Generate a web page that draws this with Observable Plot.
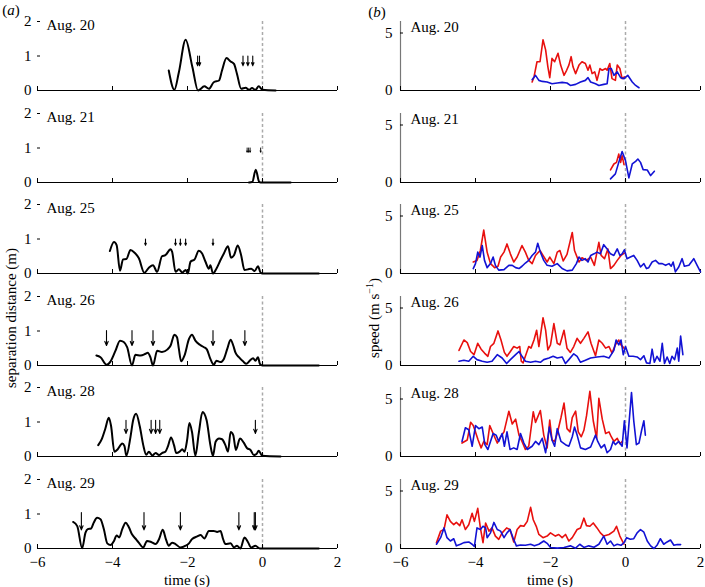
<!DOCTYPE html>
<html><head><meta charset="utf-8">
<script src="https://cdn.jsdelivr.net/npm/d3@7"></script>
<script src="https://cdn.jsdelivr.net/npm/@observablehq/plot@0.6"></script>
<style>
body{margin:0;background:#fff;}
#c{position:relative;width:705px;height:587px;font-family:"Liberation Serif",serif;color:#000;overflow:hidden;}
.t{position:absolute;font-size:15px;white-space:nowrap;}
</style></head><body><div id="c"></div>
<script>
const dates = ["Aug. 20","Aug. 21","Aug. 25","Aug. 26","Aug. 28","Aug. 29"];
const xTicks = [-6,-4,-2,0,2];
const sepTicks = [0,1,2];
const speedTicks = [0,5];

// (a) separation distance (m) vs time (s): [t, d]
const sep20 = [[-2.50,0.58],[-2.35,0.02],[-2.23,0.53],[-2.05,1.47],[-1.87,0.68],[-1.72,0],[-1.55,0.12],[-1.43,0.05],[-1.30,0.24],[-1.16,0.29],[-1.08,0.58],[-0.96,0.94],[-0.85,0.84],[-0.76,0.77],[-0.68,0.48],[-0.57,0.05],[-0.45,0.08],[-0.36,0.02],[-0.28,0.07],[-0.19,0.02],[-0.10,0.12],[0,0.02],[0.35,0]];
const sep21 = [[-0.36,0],[-0.27,0.02],[-0.18,0.37],[-0.09,0.02],[-0.05,0],[0.75,0]];
const sep25 = [[-4.07,0.65],[-3.96,0.91],[-3.89,0.82],[-3.80,0.08],[-3.72,0.41],[-3.63,0.42],[-3.52,0.68],[-3.41,0.60],[-3.30,0.45],[-3.15,0.02],[-3.03,0.17],[-2.92,0.24],[-2.81,0.05],[-2.68,0.50],[-2.59,0.53],[-2.45,0.70],[-2.41,0.63],[-2.32,0.05],[-2.23,0.12],[-2.14,0.03],[-2.05,0.10],[-1.99,0],[-1.92,0.34],[-1.81,0.41],[-1.70,0.66],[-1.61,0.58],[-1.52,0.34],[-1.43,0.14],[-1.39,0.24],[-1.32,0],[-1.23,0.14],[-1.12,0.39],[-1.03,0.58],[-0.92,0.79],[-0.84,0.46],[-0.76,0.53],[-0.66,0.81],[-0.57,0.53],[-0.48,0.10],[-0.39,0.12],[-0.30,0.14],[-0.21,0.07],[-0.12,0.21],[-0.05,0.02],[0,0],[1.5,0]];
const sep26 = [[-4.43,0.29],[-4.32,0.24],[-4.16,0.02],[-4.05,0.12],[-3.92,0.43],[-3.80,0.72],[-3.70,0.68],[-3.61,0.53],[-3.48,0],[-3.39,0.31],[-3.25,0.29],[-3.12,0.34],[-3.06,0.37],[-2.99,0.24],[-2.92,0],[-2.81,0.43],[-2.68,0.39],[-2.54,0.46],[-2.45,0.58],[-2.35,0.89],[-2.28,0.82],[-2.23,0.48],[-2.17,0.12],[-2.08,0.29],[-1.96,0.77],[-1.88,0.89],[-1.79,0.72],[-1.67,0.60],[-1.56,0.53],[-1.48,0.46],[-1.39,0.19],[-1.30,0.02],[-1.23,0.14],[-1.12,0.10],[-1.03,0.19],[-0.94,0.48],[-0.85,0.75],[-0.78,0.58],[-0.72,0.37],[-0.63,0.24],[-0.52,0.12],[-0.43,0.05],[-0.34,0.14],[-0.25,0.21],[-0.19,0.14],[-0.12,0.24],[-0.07,0.05],[0,0],[1.5,0]];
const sep28 = [[-4.38,0.33],[-4.28,0.52],[-4.19,0.81],[-4.10,1.12],[-4.04,0.90],[-3.95,0.14],[-3.86,0.21],[-3.74,0.38],[-3.68,0.30],[-3.63,0.02],[-3.52,0.57],[-3.45,1.05],[-3.37,1.24],[-3.27,0.86],[-3.18,0.33],[-3.10,0.05],[-3.03,0.14],[-2.94,0.03],[-2.85,0.10],[-2.76,0.04],[-2.68,0.10],[-2.59,0.14],[-2.52,0.30],[-2.44,0.55],[-2.36,0.33],[-2.30,0.10],[-2.21,0.14],[-2.14,0.21],[-2.08,0.14],[-2.01,0.48],[-1.95,0.97],[-1.88,0.71],[-1.79,0.02],[-1.70,0.67],[-1.60,1.29],[-1.49,1.05],[-1.39,0.33],[-1.32,0.02],[-1.25,0.43],[-1.16,0.52],[-1.08,0.50],[-0.99,0.33],[-0.92,0.14],[-0.85,0.71],[-0.78,0.62],[-0.71,0.19],[-0.60,0.52],[-0.50,0.40],[-0.41,0.24],[-0.32,0.19],[-0.23,0.04],[-0.16,0.07],[-0.10,0.17],[-0.01,0.02],[0.48,0]];
const sep29 = [[-5.05,0.77],[-4.94,0.65],[-4.81,0.01],[-4.72,0.46],[-4.66,0.56],[-4.57,0.58],[-4.50,0.75],[-4.41,0.89],[-4.32,0.85],[-4.23,0.56],[-4.14,0.15],[-4.05,0.10],[-3.96,0.22],[-3.89,0.38],[-3.82,0.32],[-3.74,0.56],[-3.65,0.75],[-3.56,0.61],[-3.48,0.41],[-3.39,0.29],[-3.30,0.17],[-3.18,0.03],[-3.08,0.22],[-2.97,0.19],[-2.85,0.13],[-2.76,0.27],[-2.66,0.54],[-2.57,0.25],[-2.50,0.08],[-2.41,0.17],[-2.32,0.13],[-2.19,0.03],[-2.05,0.08],[-1.96,0.15],[-1.88,0.27],[-1.74,0.35],[-1.65,0.39],[-1.55,0.29],[-1.43,0.51],[-1.30,0.51],[-1.21,0.48],[-1.12,0.51],[-1.05,0.27],[-0.99,0.13],[-0.85,0.15],[-0.76,0.03],[-0.68,0.08],[-0.59,0],[-0.48,0.32],[-0.39,0.19],[-0.30,0.03],[-0.19,0.08],[-0.07,0],[1.5,0]];

// arrow times and [top, bottom] extent (m)
const arr20 = [-1.73,-1.68,-0.52,-0.39,-0.26], arrY20 = [1.0,0.72];
const arr21 = [-0.41,-0.37,-0.33,-0.05], arrY21 = [1.0,0.88];
const arr25 = [-3.12,-2.32,-2.19,-2.05,-1.32], arrY25 = [1.0,0.82];
const arr26 = [-4.16,-3.48,-2.92,-1.32,-0.47], arrY26 = [1.01,0.58];
const arr28 = [-3.64,-2.97,-2.85,-2.74,-0.19], arrY28 = [1.05,0.67];
const arr29 = [-4.83,-3.16,-2.19,-0.63,-0.22,-0.19], arrY29 = [1.04,0.54];

// (b) speed (m/s): red and blue series [t, v]
const red20 = [[-2.49,0.74],[-2.44,1.18],[-2.36,2.50],[-2.28,2.50],[-2.20,4.41],[-2.13,3.53],[-2.07,2.06],[-2.02,1.12],[-1.96,2.79],[-1.89,2.50],[-1.80,3.24],[-1.73,2.21],[-1.64,1.32],[-1.57,1.76],[-1.51,2.21],[-1.45,2.94],[-1.40,2.06],[-1.33,1.47],[-1.24,2.21],[-1.16,2.50],[-1.07,2.35],[-1.00,1.76],[-0.95,2.21],[-0.89,1.47],[-0.82,1.62],[-0.76,0.88],[-0.68,1.91],[-0.62,1.76],[-0.53,1.91],[-0.49,1.76],[-0.42,2.35],[-0.36,1.03],[-0.27,0.88],[-0.22,2.21],[-0.15,1.91],[-0.09,1.03],[-0.03,1.18]];
const blue20 = [[-2.49,0.94],[-2.40,1.32],[-2.31,0.88],[-2.22,0.79],[-2.09,0.74],[-1.96,0.59],[-1.82,0.65],[-1.69,0.71],[-1.56,0.65],[-1.47,0.44],[-1.33,0.53],[-1.20,0.74],[-1.07,0.88],[-1.00,1.12],[-0.93,0.74],[-0.80,0.59],[-0.71,0.44],[-0.58,0.53],[-0.49,0.59],[-0.44,1.91],[-0.38,1.91],[-0.31,1.32],[-0.22,1.62],[-0.13,1.12],[-0.04,1.03],[0.06,1.32],[0.18,0.74],[0.27,0.44],[0.36,0.24]];
const red21 = [[-0.40,1.09],[-0.31,1.61],[-0.24,1.75],[-0.18,2.47],[-0.13,1.75],[-0.09,2.33],[-0.04,1.55]];
const blue21 = [[-0.40,0.32],[-0.27,0.75],[-0.18,1.75],[-0.09,2.70],[0,1.90],[0.09,0.40],[0.18,1.61],[0.27,1.84],[0.33,2.04],[0.40,1.75],[0.47,1.12],[0.58,1.09],[0.67,0.60],[0.77,0.98]];
const red25 = [[-4.06,1.00],[-3.96,1.14],[-3.87,2.00],[-3.78,3.77],[-3.69,1.86],[-3.60,0.86],[-3.49,0.51],[-3.40,0.63],[-3.33,1.43],[-3.24,1.86],[-3.16,2.57],[-3.07,1.71],[-2.98,1.00],[-2.89,1.43],[-2.76,2.43],[-2.67,1.86],[-2.58,1.14],[-2.49,0.86],[-2.40,1.57],[-2.28,2.00],[-2.20,1.57],[-2.09,1.00],[-2.02,1.43],[-1.91,0.86],[-1.82,1.86],[-1.75,2.00],[-1.66,1.09],[-1.56,1.66],[-1.42,3.57],[-1.36,2.00],[-1.24,1.00],[-1.16,1.37],[-1.04,1.14],[-0.93,1.43],[-0.83,0.71],[-0.71,2.71],[-0.65,1.57],[-0.56,1.29],[-0.47,2.14],[-0.40,0.43],[-0.31,0.71],[-0.22,1.14],[-0.12,1.57],[-0.03,1.77]];
const blue25 = [[-4.06,0.43],[-4.00,0.86],[-3.94,1.86],[-3.88,1.43],[-3.82,2.43],[-3.76,1.14],[-3.69,0.51],[-3.60,0.86],[-3.53,1.43],[-3.47,0.71],[-3.38,0.29],[-3.24,0.34],[-3.11,0.71],[-3.02,0.71],[-2.93,0.51],[-2.84,0.43],[-2.76,0.63],[-2.67,0.91],[-2.58,1.14],[-2.49,1.57],[-2.40,1.86],[-2.34,2.63],[-2.27,1.86],[-2.18,1.14],[-2.09,0.71],[-1.96,0.63],[-1.82,0.86],[-1.69,0.43],[-1.56,0.23],[-1.42,0.29],[-1.31,0.86],[-1.24,1.43],[-1.16,1.14],[-1.07,1.29],[-1.00,1.00],[-0.93,1.57],[-0.84,1.71],[-0.76,1.86],[-0.67,1.71],[-0.58,2.51],[-0.49,2.14],[-0.40,1.71],[-0.31,1.57],[-0.22,2.14],[-0.15,1.57],[-0.09,1.71],[-0.03,2.06],[0.04,1.29],[0.13,1.43],[0.22,1.57],[0.31,1.14],[0.40,0.57],[0.49,0.86],[0.56,0.43],[0.62,0.51],[0.71,1.00],[0.80,1.14],[0.89,0.86],[0.98,0.86],[1.07,0.71],[1.16,0.86],[1.22,0.63],[1.27,1.00],[1.33,0.14],[1.42,0.57],[1.51,1.29],[1.57,0.63],[1.69,0.71],[1.82,1.29],[1.91,0.71],[2.00,0.14]];
const red26 = [[-4.44,1.31],[-4.31,2.22],[-4.22,1.99],[-4.13,1.22],[-4.04,0.94],[-3.94,1.93],[-3.85,1.42],[-3.76,1.08],[-3.67,0.80],[-3.60,1.65],[-3.51,1.93],[-3.40,3.01],[-3.32,2.22],[-3.23,1.14],[-3.16,0.80],[-3.07,1.22],[-2.98,1.65],[-2.89,1.51],[-2.82,1.65],[-2.78,0.37],[-2.73,0.23],[-2.67,0.80],[-2.58,1.65],[-2.52,1.51],[-2.44,2.22],[-2.37,3.07],[-2.31,1.65],[-2.20,4.15],[-2.13,3.07],[-2.07,1.36],[-2.00,1.79],[-1.91,3.64],[-1.82,1.93],[-1.75,1.79],[-1.64,3.07],[-1.56,1.51],[-1.47,1.14],[-1.38,1.65],[-1.29,2.36],[-1.20,1.93],[-1.11,2.36],[-1.00,2.93],[-0.92,1.93],[-0.80,0.85],[-0.71,2.22],[-0.62,1.93],[-0.53,1.51],[-0.44,1.65],[-0.36,1.08],[-0.27,1.79],[-0.18,2.22],[-0.12,1.79],[-0.04,1.51]];
const blue26 = [[-4.44,0.37],[-4.31,0.45],[-4.18,0.37],[-4.06,0.80],[-3.96,0.51],[-3.82,0.37],[-3.69,0.28],[-3.56,0.37],[-3.42,0.94],[-3.29,0.65],[-3.17,0.17],[-3.07,0.51],[-2.93,0.94],[-2.84,1.22],[-2.76,0.80],[-2.67,0.37],[-2.53,0.28],[-2.40,0.37],[-2.27,0.28],[-2.18,0.51],[-2.04,0.65],[-1.93,0.80],[-1.82,0.65],[-1.69,0.74],[-1.60,0.17],[-1.51,0.51],[-1.38,1.02],[-1.29,0.80],[-1.20,0.28],[-1.07,0.45],[-0.93,0.65],[-0.76,0.74],[-0.58,0.80],[-0.44,0.65],[-0.31,1.31],[-0.25,2.22],[-0.18,1.79],[-0.12,2.22],[-0.06,0.94],[0.00,1.65],[0.09,0.80],[0.20,0.80],[0.31,0.74],[0.40,0.51],[0.49,0.85],[0.56,0.23],[0.65,0.17],[0.71,1.42],[0.77,0.28],[0.84,0.80],[0.92,0.37],[0.98,1.93],[1.04,0.17],[1.11,0.74],[1.18,0.17],[1.24,0.80],[1.31,0.51],[1.38,1.51],[1.42,0.37],[1.47,2.56],[1.53,0.94]];
const red28 = [[-4.36,1.17],[-4.22,1.44],[-4.13,2.97],[-4.06,2.69],[-4.00,2.14],[-3.93,1.44],[-3.85,0.75],[-3.78,1.31],[-3.69,1.03],[-3.62,2.69],[-3.53,2.00],[-3.42,1.17],[-3.33,1.72],[-3.24,2.14],[-3.11,3.94],[-3.02,2.83],[-2.93,3.25],[-2.84,1.86],[-2.76,1.31],[-2.67,0.61],[-2.58,0.89],[-2.46,3.89],[-2.40,2.97],[-2.27,4.00],[-2.18,1.86],[-2.09,0.75],[-2.02,3.17],[-1.96,1.44],[-1.89,1.31],[-1.82,2.00],[-1.72,3.39],[-1.64,4.64],[-1.56,2.42],[-1.48,2.14],[-1.42,3.39],[-1.33,3.94],[-1.26,2.14],[-1.18,1.72],[-1.11,2.28],[-1.04,3.53],[-0.95,5.67],[-0.86,3.11],[-0.77,1.58],[-0.71,5.06],[-0.62,3.25],[-0.53,2.00],[-0.44,2.14],[-0.38,1.72],[-0.31,1.31],[-0.22,1.58],[-0.15,1.11],[-0.09,1.31]];
const blue28 = [[-4.36,1.31],[-4.27,2.50],[-4.18,2.33],[-4.09,0.89],[-4.00,2.69],[-3.91,2.42],[-3.82,2.56],[-3.75,1.03],[-3.67,0.61],[-3.60,1.31],[-3.53,2.00],[-3.45,1.86],[-3.38,1.31],[-3.29,2.00],[-3.23,0.89],[-3.16,2.14],[-3.08,0.61],[-2.98,0.75],[-2.89,0.61],[-2.80,2.00],[-2.71,1.17],[-2.62,0.61],[-2.49,0.89],[-2.40,1.31],[-2.31,1.03],[-2.22,1.58],[-2.13,0.33],[-2.03,2.56],[-1.96,1.44],[-1.89,0.89],[-1.82,2.42],[-1.72,1.31],[-1.60,1.03],[-1.51,0.89],[-1.42,1.72],[-1.36,2.56],[-1.29,1.86],[-1.20,0.75],[-1.07,0.61],[-0.93,0.83],[-0.80,1.86],[-0.74,1.31],[-0.65,0.75],[-0.56,1.03],[-0.49,0.33],[-0.40,0.61],[-0.33,1.31],[-0.27,1.03],[-0.18,1.31],[-0.09,0.89],[-0.03,3.11],[0.04,0.75],[0.16,5.56],[0.22,3.11],[0.29,1.03],[0.36,1.17],[0.43,2.28],[0.49,3.11],[0.53,1.86]];
const red29 = [[-5.04,0.51],[-4.93,1.51],[-4.84,1.65],[-4.76,2.93],[-4.67,2.36],[-4.58,2.07],[-4.51,2.27],[-4.42,1.99],[-4.36,2.50],[-4.27,1.65],[-4.18,2.07],[-4.09,3.07],[-4.03,2.36],[-3.94,3.49],[-3.87,1.79],[-3.80,0.51],[-3.73,2.22],[-3.64,1.51],[-3.56,1.79],[-3.47,1.08],[-3.38,0.80],[-3.29,1.36],[-3.17,1.79],[-3.08,1.65],[-2.98,0.57],[-2.89,1.65],[-2.80,1.99],[-2.71,1.93],[-2.62,2.36],[-2.53,3.58],[-2.46,2.50],[-2.38,1.93],[-2.31,1.22],[-2.20,0.94],[-2.09,1.08],[-2.00,1.36],[-1.87,1.08],[-1.78,1.22],[-1.69,0.94],[-1.60,1.22],[-1.51,0.65],[-1.42,0.94],[-1.29,1.65],[-1.20,1.79],[-1.11,2.64],[-1.04,1.99],[-0.95,1.93],[-0.86,2.22],[-0.76,1.79],[-0.67,1.36],[-0.58,1.08],[-0.44,1.22],[-0.31,1.51],[-0.24,1.93],[-0.15,1.08],[-0.04,0.37]];
const blue29 = [[-5.04,0.37],[-4.93,0.94],[-4.84,1.79],[-4.76,0.94],[-4.67,0.65],[-4.58,0.85],[-4.51,0.23],[-4.40,0.37],[-4.31,0.51],[-4.18,0.57],[-4.09,0.37],[-4.03,0.17],[-3.96,1.79],[-3.87,1.65],[-3.80,1.93],[-3.73,1.79],[-3.69,0.94],[-3.60,1.36],[-3.51,2.27],[-3.42,1.65],[-3.33,1.51],[-3.24,0.94],[-3.16,1.36],[-3.08,1.65],[-3.00,0.94],[-2.91,0.23],[-2.80,0.31],[-2.67,0.28],[-2.53,0.37],[-2.43,0.23],[-2.31,0.37],[-2.18,0.65],[-2.09,0.45],[-2.00,0.09],[-1.82,0.03],[-1.64,0.09],[-1.47,0.23],[-1.33,0.03],[-1.22,0.37],[-1.11,0.09],[-0.98,0.23],[-0.84,0.11],[-0.71,0.37],[-0.58,1.08],[-0.49,0.37],[-0.40,0.65],[-0.31,0.23],[-0.22,0.37],[-0.12,0.28],[-0.04,0.51],[0.03,0.94],[0.13,0.80],[0.22,0.85],[0.31,1.36],[0.40,1.65],[0.49,1.42],[0.58,0.65],[0.67,0.23],[0.76,0.00],[0.84,0.28],[0.93,0.85],[1.02,0.37],[1.11,0.57],[1.20,0.74],[1.29,0.28],[1.38,0.34],[1.47,0.34]];

const sepSeries = [sep20, sep21, sep25, sep26, sep28, sep29];
const arrowTimes = [arr20, arr21, arr25, arr26, arr28, arr29];
const arrowY = [arrY20, arrY21, arrY25, arrY26, arrY28, arrY29];
const redSeries = [red20, red21, red25, red26, red28, red29];
const blueSeries = [blue20, blue21, blue25, blue26, blue28, blue29];

const RED = "#e8100e", BLUE = "#1212d4";
const baselines = [90, 181.6, 273.2, 364.8, 456.4, 548];
const PH = 69, PW = 300;
const fmt = d => d < 0 ? "\u2212" + (-d) : String(d);
const c = document.getElementById("c");

function panel(i, col) {
  const bottom = i === 5;
  const mt = 12, mb = bottom ? 26 : 6;
  const left = col === 0;
  const ml = left ? 37 : 40, mr = 8;
  const marks = [];
  marks.push(Plot.ruleY([0], {stroke: "#000", strokeWidth: 1}));
  if (!left) marks.push(Plot.ruleX([-6], {stroke: "#777", strokeWidth: 1.2}));
  marks.push(Plot.ruleX([0], {stroke: "#aaa", strokeWidth: 1.5, strokeDasharray: "3,2.5"}));
  marks.push(Plot.axisX({ticks: xTicks, tickSize: -4, tickPadding: 12,
    tickFormat: bottom ? fmt : () => "", fontSize: 15, label: null}));
  marks.push(Plot.axisY({ticks: left ? sepTicks : speedTicks, tickSize: -3, tickPadding: left ? 9 : 11,
    tickFormat: fmt, fontSize: 15, label: null}));
  if (left) {
    marks.push(Plot.line(sepSeries[i], {x: d => d[0], y: d => d[1], stroke: "#000", strokeWidth: 2, curve: "monotone-x"}));
    const ay = arrowY[i];
    marks.push(Plot.arrow(arrowTimes[i], {x1: d => d, x2: d => d, y1: () => ay[0], y2: () => ay[1],
      stroke: "#000", strokeWidth: i === 1 ? 0.9 : 1.1, headLength: i === 1 ? 2 : 6, headAngle: 45}));
  } else {
    marks.push(Plot.line(redSeries[i], {x: d => d[0], y: d => d[1], stroke: RED, strokeWidth: 1.6}));
    marks.push(Plot.line(blueSeries[i], {x: d => d[0], y: d => d[1], stroke: BLUE, strokeWidth: 1.6}));
  }
  marks.push(Plot.text([dates[i]], {text: d => d, frameAnchor: "top-left", textAnchor: "start",
    dx: left ? 9 : 10, dy: left ? -2 : 0, fontSize: 15}));
  const svg = Plot.plot({
    width: ml + PW + mr, height: mt + PH + mb,
    marginLeft: ml, marginRight: mr, marginTop: mt, marginBottom: mb,
    x: {domain: [-6, 2]},
    y: {domain: left ? [0, 2] : [0, 6]},
    style: {fontFamily: '"Liberation Serif", serif', fontSize: "15px", color: "#000", background: "transparent", overflow: "visible"},
    marks
  });
  svg.style.position = "absolute";
  svg.style.left = (left ? 0 : 360) + "px";
  svg.style.top = (baselines[i] - PH - mt) + "px";
  c.appendChild(svg);
}
for (let i = 0; i < 6; i++) { panel(i, 0); panel(i, 1); }

function label(html, x, y, rot) {
  const d = document.createElement("div");
  d.className = "t";
  d.innerHTML = html;
  d.style.left = x + "px"; d.style.top = y + "px";
  d.style.transform = "translate(-50%,-50%)" + (rot ? " rotate(-90deg)" : "");
  c.appendChild(d);
}
label("(<i>a</i>)", 11, 10);
label("(<i>b</i>)", 377, 12);
label("time (s)", 187, 580);
label("time (s)", 550, 580);
label("separation distance (m)", 11, 318, true);
label("speed (m s<sup style=\"font-size:10px\">\u22121</sup>)", 373, 318, true);
</script></body></html>
